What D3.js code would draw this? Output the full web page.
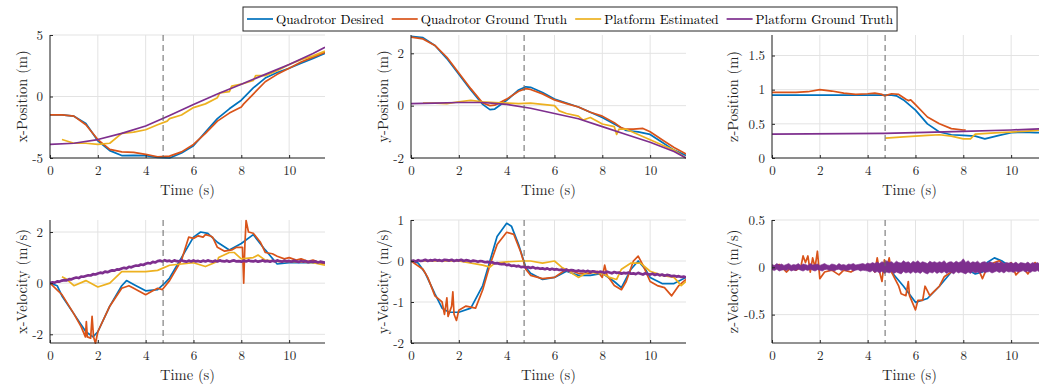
<!DOCTYPE html>
<html>
<head>
<meta charset="utf-8">
<script src="https://cdn.jsdelivr.net/npm/d3@7"></script>
<style>
  body { margin: 0; background: #fff; }
  svg { display: block; }
</style>
</head>
<body>
<svg id="fig" width="1039" height="387"></svg>
<script>
const FONT = '"Latin Modern Roman", "Liberation Serif", serif';

// ---- data ----
const seriesNames = ["Quadrotor Desired", "Quadrotor Ground Truth", "Platform Estimated", "Platform Ground Truth"];
const seriesColors = ["#0072BD", "#D95319", "#EDB120", "#7E2F8E"];
const xTicks = [0, 2, 4, 6, 8, 10];
const switchTime = 4.73;

// x-Position (m)
const xPosDesired = [[0,-1.5],[0.5,-1.5],[1,-1.6],[1.5,-2.2],[2,-3.6],[2.5,-4.4],[3,-4.8],[3.5,-4.78],[4,-4.8],[4.5,-4.95],[5,-5.0],[5.5,-4.6],[6,-4.0],[6.5,-2.9],[7,-1.8],[7.5,-1.0],[8,-0.3],[8.5,0.7],[9,1.5],[9.5,1.95],[10,2.3],[10.5,2.7],[11,3.1],[11.5,3.5]];
const xPosTruth = [[0,-1.5],[0.5,-1.5],[1,-1.6],[1.5,-2.3],[2,-3.5],[2.5,-4.3],[3,-4.5],[3.5,-4.55],[4,-4.7],[4.5,-4.9],[5,-4.85],[5.5,-4.5],[6,-3.9],[6.5,-3.0],[7,-2.0],[7.5,-1.35],[8,-0.85],[8.1,-0.6],[8.5,0.2],[9,1.2],[9.5,1.8],[10,2.3],[10.5,2.8],[11,3.2],[11.5,3.6]];
const xPosEst = [[0.5,-3.5],[1,-3.8],[1.5,-3.8],[2,-3.9],[2.5,-3.8],[3,-3.0],[3.5,-2.9],[4,-2.7],[4.5,-2.3],[4.9,-2.0],[5,-1.8],[5.5,-1.5],[6,-0.9],[6.5,-0.6],[7,-0.1],[7.1,0.3],[7.5,0.4],[7.6,0.85],[8,1.0],[8.5,1.3],[8.6,1.7],[9,1.7],[9.5,2.1],[10,2.6],[10.5,3.0],[11,3.3],[11.5,3.7]];
const xPosPlat = [[0,-3.9],[1,-3.8],[2,-3.5],[3,-3.0],[4,-2.4],[5,-1.55],[6,-0.65],[7,0.2],[8,1.0],[9,1.8],[10,2.6],[11,3.5],[11.5,4.0]];

// y-Position (m)
const yPosDesired = [[0,2.65],[0.5,2.6],[1,2.3],[1.5,1.8],[2,1.2],[2.5,0.6],[3,0.05],[3.3,-0.15],[3.5,-0.13],[4,0.2],[4.5,0.6],[4.8,0.72],[5,0.7],[5.5,0.5],[6,0.25],[6.5,0.1],[7,-0.05],[7.5,-0.25],[8,-0.45],[8.5,-0.7],[9,-0.95],[9.5,-1.0],[10,-1.1],[10.5,-1.4],[11,-1.7],[11.5,-1.9]];
const yPosTruth = [[0,2.62],[0.5,2.55],[1,2.3],[1.5,1.85],[2,1.25],[2.5,0.65],[3,0.1],[3.3,0.0],[3.5,0.02],[4,0.25],[4.5,0.55],[4.8,0.65],[5,0.62],[5.5,0.45],[6,0.22],[6.5,0.08],[7,-0.05],[7.5,-0.25],[8,-0.4],[8.5,-0.65],[8.8,-0.85],[9,-0.9],[9.3,-0.9],[9.7,-0.87],[10,-1.0],[10.5,-1.3],[11,-1.6],[11.5,-1.85]];
const yPosEst = [[0.5,0.1],[1,0.1],[1.5,0.08],[2,0.15],[2.5,0.2],[3,0.15],[3.5,0.12],[4,0.1],[4.5,0.08],[5,0.1],[5.5,0.05],[6,0.0],[6.2,-0.2],[6.5,-0.3],[7,-0.4],[7.2,-0.55],[7.5,-0.45],[8,-0.7],[8.5,-0.8],[8.6,-1.1],[8.7,-0.9],[9,-0.9],[9.5,-1.1],[10,-1.3],[10.5,-1.5],[11,-1.7],[11.5,-2.0]];
const yPosPlat = [[0,0.08],[1,0.1],[2,0.12],[3,0.12],[4,0.05],[5,-0.1],[6,-0.3],[7,-0.5],[8,-0.8],[9,-1.1],[10,-1.4],[11,-1.75],[11.5,-2.0]];

// z-Position (m)
const zPosDesired = [[0,0.92],[5,0.92],[5.2,0.91],[5.5,0.85],[6,0.7],[6.5,0.5],[7,0.38],[7.5,0.34],[8,0.33],[8.5,0.32],[8.9,0.28],[9.5,0.33],[10,0.37],[10.5,0.38],[11,0.37],[11.5,0.37]];
const zPosTruth = [[0,0.96],[1,0.96],[1.5,0.97],[2,1.0],[2.5,0.98],[3,0.95],[3.5,0.93],[4,0.94],[4.3,0.95],[4.6,0.93],[4.7,0.91],[5,0.94],[5.3,0.93],[5.6,0.86],[5.7,0.84],[5.8,0.85],[6,0.78],[6.5,0.6],[7,0.5],[7.5,0.43],[8,0.41],[8.1,0.41]];
const zPosEst = [[4.75,0.29],[5.5,0.31],[6,0.32],[6.5,0.33],[7,0.34],[7.5,0.32],[8,0.28],[8.3,0.28],[8.5,0.35],[9,0.36],[9.5,0.37],[10,0.38],[10.5,0.39],[11,0.4],[11.5,0.42]];
const zPosPlat = [[0,0.35],[4.7,0.36],[6,0.37],[8,0.39],[10,0.41],[11.5,0.43]];

// x-Velocity (m/s)
const xVelDesired = [[0,0],[0.3,-0.1],[0.5,-0.5],[1,-1.2],[1.5,-1.9],[1.8,-2.1],[2,-1.9],[2.5,-0.9],[3,-0.1],[3.2,0.1],[3.5,-0.05],[4,-0.3],[4.5,-0.25],[4.8,0.0],[5,0.2],[5.5,1.0],[6,1.8],[6.3,2.0],[6.6,1.95],[7,1.6],[7.5,1.3],[8,1.55],[8.5,1.9],[9,1.3],[9.5,0.75],[10,0.8],[10.5,0.8],[11,0.8],[11.5,0.8]];
const xVelTruth = [[0,0],[0.5,-0.45],[1,-1.2],[1.3,-1.7],[1.48,-2.1],[1.52,-1.5],[1.56,-2.1],[1.7,-2.15],[1.76,-1.3],[1.82,-2.1],[1.9,-2.35],[2,-1.9],[2.5,-0.9],[3,-0.2],[3.3,-0.1],[3.5,-0.2],[4,-0.45],[4.3,-0.3],[4.5,-0.2],[4.7,-0.25],[5,0.1],[5.5,0.9],[5.8,1.8],[6,1.75],[6.2,1.85],[6.4,1.8],[6.5,1.9],[6.7,1.85],[6.8,1.8],[7,1.4],[7.3,1.25],[7.6,1.3],[7.8,1.4],[8.05,1.4],[8.1,0.0],[8.15,1.5],[8.2,2.45],[8.3,2.0],[8.5,1.95],[8.8,1.6],[9,1.2],[9.3,1.15],[9.5,1.05],[9.8,0.95],[10,1.0],[10.3,0.9],[10.5,0.95],[10.8,0.85],[11,0.9],[11.3,0.8],[11.5,0.75]];
const xVelEst = [[0.5,0.25],[0.7,0.15],[1,-0.1],[1.5,0.1],[2,-0.15],[2.5,0.0],[3,0.45],[3.5,0.45],[4,0.45],[4.5,0.5],[5,0.7],[5.5,0.75],[6,0.8],[6.5,0.65],[7,0.85],[7.05,1.0],[7.5,1.2],[7.7,1.2],[8,0.95],[8.5,1.0],[8.7,1.1],[9,0.9],[9.5,0.85],[10,0.85],[11,0.8],[11.5,0.7]];
// platform velocities sampled every 0.1 s
const xVelPlat = [
  0.00,0.03,0.02,0.07,0.06,0.10,0.12,0.11,0.16,0.15,
  0.19,0.22,0.20,0.26,0.25,0.28,0.31,0.30,0.35,0.34,
  0.38,0.41,0.39,0.45,0.43,0.47,0.50,0.49,0.54,0.53,
  0.57,0.60,0.58,0.64,0.62,0.66,0.69,0.68,0.73,0.71,
  0.76,0.79,0.77,0.83,0.81,0.86,0.88,0.85,0.90,0.86,
  0.88,0.84,0.89,0.86,0.85,0.90,0.86,0.84,0.88,0.85,
  0.89,0.85,0.87,0.84,0.88,0.85,0.89,0.86,0.84,0.88,
  0.85,0.89,0.86,0.85,0.88,0.84,0.87,0.89,0.85,0.86,
  0.84,0.88,0.85,0.89,0.86,0.85,0.88,0.84,0.86,0.89,
  0.85,0.87,0.84,0.88,0.85,0.89,0.86,0.84,0.88,0.85,
  0.87,0.84,0.88,0.85,0.83,0.87,0.84,0.86,0.82,0.85,
  0.83,0.85,0.81,0.84,0.82,0.80];

// y-Velocity (m/s)
const yVelDesired = [[0,0],[0.3,-0.05],[0.6,-0.3],[1,-0.8],[1.3,-1.15],[1.6,-1.25],[2,-1.25],[2.5,-1.15],[3,-0.6],[3.3,0.0],[3.6,0.6],[4,0.92],[4.2,0.85],[4.5,0.4],[4.8,-0.15],[5,-0.3],[5.5,-0.45],[6,-0.4],[6.5,-0.25],[7,-0.35],[7.5,-0.35],[8,-0.3],[8.5,-0.5],[8.8,-0.65],[9.2,-0.2],[9.5,0.0],[9.8,-0.2],[10,-0.4],[10.5,-0.55],[11,-0.55],[11.5,-0.4]];
const yVelTruth = [[0,0],[0.5,-0.2],[0.7,-0.4],[1,-0.85],[1.2,-0.95],[1.3,-1.0],[1.4,-1.3],[1.5,-0.9],[1.55,-1.35],[1.7,-1.1],[1.75,-0.75],[1.8,-1.3],[1.9,-1.45],[2,-1.2],[2.3,-1.1],[2.7,-1.15],[3,-0.7],[3.3,-0.1],[3.6,0.4],[4,0.7],[4.3,0.65],[4.6,0.2],[4.8,-0.2],[5,-0.35],[5.5,-0.43],[6,-0.4],[6.5,-0.2],[7,-0.3],[7.5,-0.3],[7.8,-0.25],[8,-0.4],[8.1,-0.1],[8.2,-0.35],[8.5,-0.6],[8.8,-0.7],[9,-0.5],[9.3,0.0],[9.5,0.12],[9.7,-0.1],[10,-0.5],[10.3,-0.6],[10.6,-0.65],[10.9,-0.85],[11.2,-0.6],[11.5,-0.45]];
const yVelEst = [[0.5,0.0],[1,0.0],[2,0.0],[3,-0.1],[3.3,-0.15],[3.5,-0.05],[4,-0.02],[4.7,0.0],[5,0.0],[5.5,-0.05],[6,0.0],[6.3,-0.15],[6.6,-0.25],[7,-0.4],[7.3,-0.3],[7.5,-0.25],[7.7,-0.3],[8,-0.3],[8.3,-0.4],[8.6,-0.45],[8.8,-0.2],[9.2,-0.05],[9.6,-0.05],[10,-0.25],[10.5,-0.35],[11,-0.4],[11.3,-0.6],[11.5,-0.5]];
const yVelPlat = [
  0.00,0.01,-0.01,0.02,0.00,0.01,0.03,0.00,0.02,0.01,
  0.03,0.01,0.02,0.00,0.03,0.02,0.01,0.03,0.00,0.02,
  0.01,0.03,0.00,0.02,0.01,-0.01,0.01,0.00,-0.02,0.00,
  -0.01,-0.03,-0.02,-0.04,-0.03,-0.06,-0.05,-0.07,-0.08,-0.07,
  -0.10,-0.09,-0.12,-0.11,-0.13,-0.12,-0.15,-0.14,-0.16,-0.15,
  -0.17,-0.15,-0.18,-0.17,-0.19,-0.18,-0.20,-0.18,-0.21,-0.19,
  -0.21,-0.20,-0.22,-0.21,-0.23,-0.21,-0.24,-0.22,-0.23,-0.25,
  -0.23,-0.25,-0.24,-0.26,-0.24,-0.27,-0.25,-0.26,-0.28,-0.26,
  -0.27,-0.29,-0.26,-0.28,-0.30,-0.27,-0.29,-0.28,-0.31,-0.29,
  -0.30,-0.28,-0.31,-0.30,-0.32,-0.29,-0.31,-0.33,-0.30,-0.32,
  -0.33,-0.31,-0.34,-0.32,-0.35,-0.33,-0.36,-0.34,-0.35,-0.37,
  -0.36,-0.38,-0.37,-0.39,-0.38,-0.40];

// z-Velocity (m/s)
const zVelDesired = [[0,0],[4.8,0],[5,-0.05],[5.5,-0.2],[6,-0.37],[6.5,-0.33],[7,-0.2],[7.5,-0.05],[8,0.0],[8.5,-0.07],[8.8,-0.05],[9,0.05],[9.3,0.1],[9.6,0.07],[10,0.0],[11.5,0.0]];
const zVelTruth = [[0,0],[0.3,0.03],[0.6,-0.05],[0.8,0.0],[1,-0.03],[1.2,0.0],[1.3,0.12],[1.4,0.05],[1.5,0.12],[1.6,-0.05],[1.7,0.1],[1.8,0.0],[1.9,0.17],[2,-0.12],[2.2,-0.05],[2.5,-0.03],[2.8,-0.08],[3,-0.03],[3.3,-0.05],[3.6,0.0],[3.8,0.01],[4,-0.02],[4.1,0.03],[4.3,-0.05],[4.4,0.1],[4.5,-0.05],[4.6,-0.15],[4.7,0.08],[4.8,-0.02],[4.9,0.1],[5,-0.05],[5.1,-0.1],[5.3,-0.2],[5.4,-0.28],[5.6,-0.3],[5.7,-0.15],[5.75,-0.3],[6,-0.45],[6.1,-0.35],[6.3,-0.35],[6.4,-0.2],[6.6,-0.3],[6.8,-0.25],[7,-0.2],[7.2,-0.1],[7.5,-0.05],[7.8,0.0],[8,-0.03],[8.3,0.03],[8.6,0.0],[8.8,-0.12],[9,0.0],[9.3,0.05],[9.5,0.07],[9.8,0.0],[10,0.05],[10.2,-0.08],[10.5,0.0],[10.7,-0.07],[11,0.05],[11.2,-0.03],[11.5,0.04]];
// platform z-velocity is a dense noise band: upper / lower edge every 0.1 s
const zVelPlatHi = [
  0.03,0.02,0.04,0.025,0.035,0.02,0.03,0.04,0.02,0.03,
  0.025,0.04,0.02,0.035,0.03,0.02,0.04,0.025,0.03,0.035,
  0.02,0.03,0.04,0.025,0.02,0.035,0.03,0.02,0.04,0.025,
  0.03,0.02,0.035,0.03,0.04,0.025,0.03,0.035,0.04,0.03,
  0.045,0.035,0.05,0.04,0.055,0.04,0.06,0.045,0.07,0.05,
  0.06,0.04,0.065,0.05,0.045,0.07,0.05,0.06,0.04,0.065,
  0.05,0.07,0.045,0.06,0.05,0.04,0.065,0.05,0.06,0.045,
  0.06,0.05,0.07,0.04,0.055,0.06,0.045,0.065,0.05,0.06,
  0.09,0.05,0.07,0.045,0.06,0.05,0.065,0.04,0.055,0.06,
  0.045,0.06,0.05,0.04,0.055,0.045,0.06,0.04,0.05,0.045,
  0.05,0.04,0.055,0.035,0.05,0.045,0.04,0.055,0.035,0.05,
  0.04,0.05,0.035,0.045,0.04,0.05];
const zVelPlatLo = [
  -0.025,-0.035,-0.02,-0.04,-0.03,-0.025,-0.035,-0.02,-0.04,-0.03,
  -0.035,-0.02,-0.03,-0.04,-0.025,-0.035,-0.02,-0.03,-0.04,-0.025,
  -0.03,-0.04,-0.025,-0.02,-0.035,-0.03,-0.04,-0.025,-0.02,-0.035,
  -0.025,-0.035,-0.03,-0.02,-0.04,-0.03,-0.025,-0.04,-0.03,-0.035,
  -0.04,-0.05,-0.035,-0.055,-0.045,-0.06,-0.04,-0.065,-0.05,-0.06,
  -0.045,-0.065,-0.05,-0.06,-0.07,-0.045,-0.06,-0.05,-0.065,-0.045,
  -0.06,-0.05,-0.065,-0.045,-0.06,-0.07,-0.05,-0.06,-0.045,-0.065,
  -0.05,-0.06,-0.045,-0.065,-0.05,-0.055,-0.07,-0.045,-0.06,-0.05,
  -0.06,-0.07,-0.05,-0.065,-0.045,-0.06,-0.05,-0.065,-0.045,-0.055,
  -0.05,-0.045,-0.06,-0.05,-0.04,-0.055,-0.045,-0.06,-0.04,-0.05,
  -0.045,-0.055,-0.04,-0.05,-0.045,-0.035,-0.05,-0.04,-0.055,-0.04,
  -0.045,-0.035,-0.05,-0.04,-0.045,-0.04];

const sampled = (vals, dt) => vals.map((v, i) => [i * dt, v]);
const zVelBand = zVelPlatHi.map((hi, i) => [i * 0.1, zVelPlatLo[i], hi]);

// ---- layout ----
const panels = [
  { left: 50,  top: 35,  label: "x-Position (m)",   domain: [-5, 5],       ticks: [-5, 0, 5],       labOff: 28, series: [xPosDesired, xPosTruth, xPosEst, xPosPlat] },
  { left: 411, top: 35,  label: "y-Position (m)",   domain: [-2, 2.7],     ticks: [-2, 0, 2],       labOff: 28, series: [yPosDesired, yPosTruth, yPosEst, yPosPlat] },
  { left: 772, top: 35,  label: "z-Position (m)",   domain: [0, 1.8],      ticks: [0, 0.5, 1, 1.5], labOff: 39, series: [zPosDesired, zPosTruth, zPosEst, zPosPlat] },
  { left: 50,  top: 220, label: "x-Velocity (m/s)", domain: [-2.34, 2.47], ticks: [-2, 0, 2],       labOff: 28, series: [xVelDesired, xVelTruth, xVelEst, sampled(xVelPlat, 0.1)], thick: true },
  { left: 411, top: 220, label: "y-Velocity (m/s)", domain: [-2, 1],       ticks: [-2, -1, 0, 1],   labOff: 28, series: [yVelDesired, yVelTruth, yVelEst, sampled(yVelPlat, 0.1)], thick: true },
  { left: 772, top: 220, label: "z-Velocity (m/s)", domain: [-0.8, 0.5],   ticks: [-0.5, 0, 0.5],   labOff: 39, series: [zVelDesired, zVelTruth, null, null], band: zVelBand }
];
const W = 275, H = 123;
const fmt = v => String(v);

const svg = d3.select("#fig");

panels.forEach((p, pi) => {
  const x = d3.scaleLinear().domain([0, 11.5]).range([0, W]);
  const y = d3.scaleLinear().domain(p.domain).range([H, 0]);
  const g = svg.append("g").attr("transform", `translate(${p.left},${p.top})`);

  // grid
  g.append("g").selectAll("line").data(xTicks).join("line")
    .attr("x1", d => x(d)).attr("x2", d => x(d)).attr("y1", 0).attr("y2", H)
    .attr("stroke", "#e3e3e3").attr("stroke-width", 1);
  g.append("g").selectAll("line").data(p.ticks).join("line")
    .attr("x1", 0).attr("x2", W).attr("y1", d => y(d)).attr("y2", d => y(d))
    .attr("stroke", "#e3e3e3").attr("stroke-width", 1);

  const clipId = "clip" + pi;
  g.append("clipPath").attr("id", clipId).append("rect")
    .attr("x", 0).attr("y", -1).attr("width", W).attr("height", H + 2);

  const line = d3.line().x(d => x(d[0])).y(d => y(d[1]));
  const data = g.append("g").attr("clip-path", `url(#${clipId})`);
  p.series.forEach((s, si) => {
    if (!s) return;
    data.append("path")
      .attr("d", line(s))
      .attr("fill", "none")
      .attr("stroke", seriesColors[si])
      .attr("stroke-width", (p.thick && si === 3) ? 2.7 : 1.7)
      .attr("stroke-linejoin", "round");
  });
  if (p.band) {
    const area = d3.area().x(d => x(d[0])).y0(d => y(d[1])).y1(d => y(d[2]));
    data.append("path")
      .attr("d", area(p.band))
      .attr("fill", seriesColors[3])
      .attr("stroke", seriesColors[3]).attr("stroke-width", 0.6);
  }

  // switch marker
  g.append("line")
    .attr("x1", x(switchTime)).attr("x2", x(switchTime)).attr("y1", 0).attr("y2", H)
    .attr("stroke", "#666").attr("stroke-width", 1).attr("stroke-dasharray", "6,4");

  // axes (MATLAB style, ticks inward)
  const xa = g.append("g").attr("transform", `translate(0,${H})`)
    .call(d3.axisBottom(x).tickValues(xTicks).tickSizeInner(-3).tickSizeOuter(0).tickPadding(8).tickFormat(fmt));
  const ya = g.append("g")
    .call(d3.axisLeft(y).tickValues(p.ticks).tickSizeInner(-3).tickSizeOuter(0).tickPadding(7).tickFormat(fmt));
  [xa, ya].forEach(a => {
    a.attr("font-family", FONT).attr("font-size", 13);
    a.select(".domain").attr("stroke", "#262626").attr("stroke-width", 1);
    a.selectAll(".tick line").attr("stroke", "#262626");
    a.selectAll(".tick text").attr("fill", "#262626");
  });
  ya.select(".domain").attr("d", `M0,0V${H}`);
  xa.select(".domain").attr("d", `M0,0H${W}`);

  g.append("text")
    .attr("x", W / 2).attr("y", H + 37)
    .attr("text-anchor", "middle")
    .attr("font-family", FONT).attr("font-size", 14.5).attr("fill", "#262626")
    .text("Time (s)");
  g.append("text")
    .attr("transform", `translate(${-p.labOff},${H / 2}) rotate(-90)`)
    .attr("text-anchor", "middle").attr("dy", "0.35em")
    .attr("font-family", FONT).attr("font-size", 14.5).attr("fill", "#262626")
    .text(p.label);
});

// ---- legend ----
const leg = svg.append("g");
const box = leg.append("rect").attr("y", 7).attr("height", 24)
  .attr("fill", "#fff").attr("stroke", "#262626").attr("stroke-width", 1);
let cx = 247;
seriesNames.forEach((name, i) => {
  leg.append("line").attr("x1", cx).attr("x2", cx + 26).attr("y1", 19).attr("y2", 19)
    .attr("stroke", seriesColors[i]).attr("stroke-width", 1.7);
  const t = leg.append("text").attr("x", cx + 29).attr("y", 23.5)
    .attr("font-family", FONT).attr("font-size", 13.2).attr("fill", "#000")
    .text(name);
  cx = cx + 29 + t.node().getComputedTextLength() + 8;
});
box.attr("x", 243).attr("width", cx - 4 - 243);
</script>
</body>
</html>
